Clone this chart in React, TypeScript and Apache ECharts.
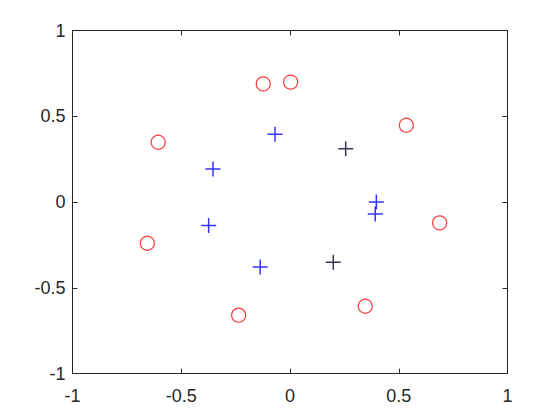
import React, { useEffect, useRef } from "react";
import * as echarts from "echarts";

const tickValues = [-1, -0.5, 0, 0.5, 1];

const redCircles: [number, number][] = [
  [-0.606, 0.349],
  [-0.123, 0.689],
  [0.003, 0.699],
  [0.535, 0.448],
  [0.688, -0.121],
  [-0.656, -0.24],
  [0.346, -0.607],
  [-0.236, -0.659],
];

const bluePlus: [number, number][] = [
  [-0.069, 0.396],
  [-0.354, 0.193],
  [0.397, 0.0],
  [0.392, -0.069],
  [-0.374, -0.137],
  [-0.137, -0.378],
];

const darkPlus: [number, number][] = [
  [0.256, 0.311],
  [0.199, -0.35],
];

const PLUS = "path://M7,0 L7,14 M0,7 L14,7";

export default function App() {
  const ref = useRef<HTMLDivElement>(null);
  useEffect(() => {
    document.body.style.margin = "0";
    if (!ref.current) return;
    const chart = echarts.init(ref.current, undefined, { renderer: "svg" });
    const axisColor = "#262626";
    const font = "Arial, 'Liberation Sans', Helvetica, sans-serif";
    const baseAxis = {
      type: "value" as const,
      min: -1,
      max: 1,
      interval: 0.5,
      splitLine: { show: false },
      axisLine: { show: true, onZero: false, lineStyle: { color: axisColor, width: 1 } },
      axisTick: { show: true, inside: true, length: 5, lineStyle: { color: axisColor, width: 1 } },
    };
    chart.setOption({
      animation: false,
      backgroundColor: "#ffffff",
      grid: { left: 72.5, right: 52.5, top: 30.5, bottom: 46.3 },
      xAxis: [
        {
          ...baseAxis,
          position: "bottom",
          axisLabel: {
            show: true,
            color: axisColor,
            fontSize: 18,
            fontFamily: font,
            margin: 13,
            formatter: (v: number) => String(v),
          },
        },
        { ...baseAxis, position: "top", axisLabel: { show: false } },
      ],
      yAxis: [
        {
          ...baseAxis,
          position: "left",
          axisLabel: {
            show: true,
            color: axisColor,
            fontSize: 18,
            fontFamily: font,
            margin: 7,
            formatter: (v: number) => String(v),
          },
        },
        { ...baseAxis, position: "right", axisLabel: { show: false } },
      ],
      series: [
        {
          type: "scatter",
          data: redCircles,
          symbol: "circle",
          symbolSize: 14,
          itemStyle: { color: "rgba(0,0,0,0)", borderColor: "#ff0000", borderWidth: 1.2 },
        },
        {
          type: "scatter",
          data: bluePlus,
          symbol: PLUS,
          symbolSize: 15,
          itemStyle: { color: "none", borderColor: "#0000ff", borderWidth: 1.5 },
        },
        {
          type: "scatter",
          data: darkPlus,
          symbol: PLUS,
          symbolSize: 15,
          itemStyle: { color: "none", borderColor: "#06062a", borderWidth: 1.5 },
        },
      ],
    });
    return () => chart.dispose();
  }, []);
  return <div ref={ref} style={{ width: 560, height: 420 }} />;
}
